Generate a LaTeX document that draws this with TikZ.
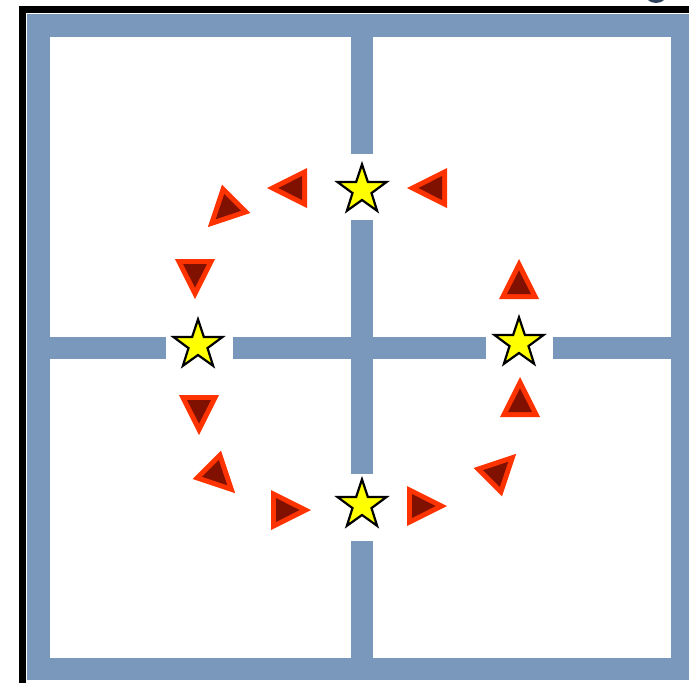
\documentclass[tikz,border=0pt]{standalone}
\definecolor{wallblue}{RGB}{122,151,188}
\definecolor{arrred}{RGB}{255,51,0}
\definecolor{arrdark}{RGB}{128,16,0}
\definecolor{staryellow}{RGB}{255,255,0}
\definecolor{navyblob}{RGB}{45,65,90}
\tikzset{
  wallseg/.style={fill=wallblue},
  frameseg/.style={fill=black},
  arrowtri/.pic={
    \fill[arrred] (20,0) -- (-20,20) -- (-20,-20) -- cycle;
    \fill[arrdark] (8.7,0) -- (-15,11.9) -- (-15,-11.9) -- cycle;
  },
  goalstar/.pic={
    \draw[fill=staryellow, line width=2.2pt, line join=miter, miter limit=4]
      (-90:25.7) -- (-54:10) -- (-18:25.7) -- (18:10) -- (54:25.7) -- (90:10)
      -- (126:25.7) -- (162:10) -- (198:25.7) -- (234:10) -- cycle;
  }
}
\begin{document}
\begin{tikzpicture}[x=1pt,y=-1pt]
\useasboundingbox (0,0) rectangle (689,683);
\clip (0,0) rectangle (689,683);
\fill[white] (0,0) rectangle (689,683);
% partial object at the top right
\fill[navyblob] (656,-8) ellipse [x radius=12, y radius=11];
% black frame
\fill[frameseg] (19,6) rectangle (700,13);
\fill[frameseg] (19,6) rectangle (26,690);
% outer walls
\fill[wallseg] (27,14) rectangle (700,37);
\fill[wallseg] (27,14) rectangle (50,680);
\fill[wallseg] (27,658) rectangle (700,680);
\fill[wallseg] (671,14) rectangle (700,680);
% central vertical wall
\fill[wallseg] (351,37) rectangle (373,154);
\fill[wallseg] (351,220) rectangle (373,474);
\fill[wallseg] (351,541) rectangle (373,658);
% central horizontal wall
\fill[wallseg] (50,337) rectangle (166,359);
\fill[wallseg] (233,337) rectangle (486,359);
\fill[wallseg] (553,337) rectangle (671,359);
% stars
\pic at (362,190) {goalstar};
\pic at (198,345) {goalstar};
\pic at (362,505) {goalstar};
\pic at (519,343) {goalstar};
% arrows
\pic[rotate=180] at (427,188) {arrowtri};
\pic[rotate=180] at (287,188) {arrowtri};
\pic[rotate=225] at (222,213) {arrowtri};
\pic[rotate=270] at (195,279) {arrowtri};
\pic[rotate=270] at (199,415) {arrowtri};
\pic[rotate=315] at (221,479) {arrowtri};
\pic[rotate=0] at (291,510) {arrowtri};
\pic[rotate=0] at (427,506) {arrowtri};
\pic[rotate=45] at (502,468) {arrowtri};
\pic[rotate=90] at (520,397) {arrowtri};
\pic[rotate=90] at (519,279) {arrowtri};
\end{tikzpicture}
\end{document}
